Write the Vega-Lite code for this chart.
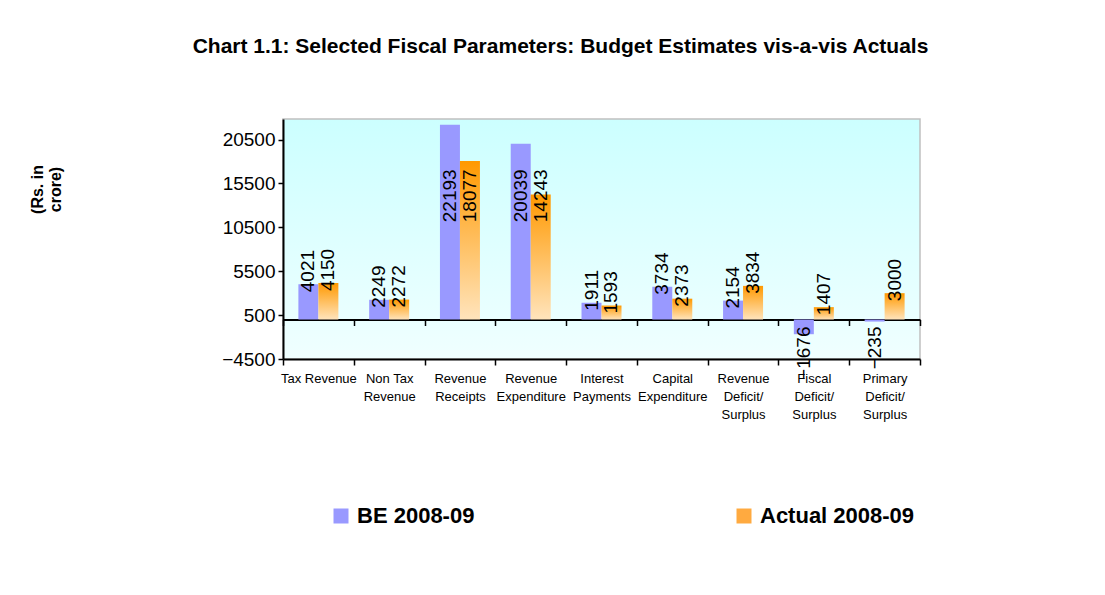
{
  "$schema": "https://vega.github.io/schema/vega-lite/v6.json",
  "width": 637,
  "height": 240,
  "autosize": {"type": "none"},
  "padding": {"left": 283, "top": 119, "right": 185, "bottom": 236},
  "background": "white",
  "title": {
    "text": "Chart 1.1: Selected Fiscal Parameters: Budget Estimates vis-a-vis Actuals",
    "font": "Liberation Sans",
    "fontSize": 21,
    "fontWeight": "bold",
    "color": "black",
    "anchor": "middle",
    "dx": -41,
    "offset": 62
  },
  "config": {
    "view": {
      "fill": {
        "gradient": "linear",
        "x1": 0, "y1": 0, "x2": 0, "y2": 1,
        "stops": [
          {"offset": 0, "color": "#CCFFFF"},
          {"offset": 1, "color": "#F0FFFF"}
        ]
      },
      "stroke": "#C0C0C0",
      "strokeWidth": 1.5
    },
    "font": "Liberation Sans",
    "axis": {"grid": false, "labelColor": "black", "tickColor": "black", "domainColor": "black", "titleColor": "black"}
  },
  "data": {
    "values": [
      {"category": "Tax Revenue", "series": "BE 2008-09", "value": 4021},
      {"category": "Tax Revenue", "series": "Actual 2008-09", "value": 4150},
      {"category": "Non Tax\nRevenue", "series": "BE 2008-09", "value": 2249},
      {"category": "Non Tax\nRevenue", "series": "Actual 2008-09", "value": 2272},
      {"category": "Revenue\nReceipts", "series": "BE 2008-09", "value": 22193},
      {"category": "Revenue\nReceipts", "series": "Actual 2008-09", "value": 18077},
      {"category": "Revenue\nExpenditure", "series": "BE 2008-09", "value": 20039},
      {"category": "Revenue\nExpenditure", "series": "Actual 2008-09", "value": 14243},
      {"category": "Interest\nPayments", "series": "BE 2008-09", "value": 1911},
      {"category": "Interest\nPayments", "series": "Actual 2008-09", "value": 1593},
      {"category": "Capital\nExpenditure", "series": "BE 2008-09", "value": 3734},
      {"category": "Capital\nExpenditure", "series": "Actual 2008-09", "value": 2373},
      {"category": "Revenue\nDeficit/\nSurplus", "series": "BE 2008-09", "value": 2154},
      {"category": "Revenue\nDeficit/\nSurplus", "series": "Actual 2008-09", "value": 3834},
      {"category": "Fiscal\nDeficit/\nSurplus", "series": "BE 2008-09", "value": -1676},
      {"category": "Fiscal\nDeficit/\nSurplus", "series": "Actual 2008-09", "value": 1407},
      {"category": "Primary\nDeficit/\nSurplus", "series": "BE 2008-09", "value": -235},
      {"category": "Primary\nDeficit/\nSurplus", "series": "Actual 2008-09", "value": 3000}
    ]
  },
  "resolve": {"axis": {"x": "independent"}},
  "layer": [
    {
      "mark": {"type": "bar"},
      "encoding": {
        "x": {
          "field": "category", "type": "nominal", "sort": null,
          "scale": {"paddingInner": 0, "paddingOuter": 0},
          "axis": {
            "title": null,
            "orient": "bottom",
            "labelAngle": 0,
            "labelExpr": "isString(datum.value) ? split(datum.value, '\\n') : ''",
            "labelFontSize": 13,
            "labelLineHeight": 18,
            "labelBaseline": "top",
            "labelPadding": 7,
            "labelLimit": 200,
            "labelOverlap": false,
            "tickBand": "extent",
            "tickSize": 6,
            "tickWidth": 1.5,
            "domainWidth": 2
          }
        },
        "xOffset": {
          "field": "series", "type": "nominal", "sort": ["BE 2008-09", "Actual 2008-09"],
          "scale": {"paddingInner": 0, "paddingOuter": 0.77}
        },
        "y": {
          "field": "value", "type": "quantitative",
          "scale": {"domain": [-4500, 22850], "nice": false, "zero": false},
          "axis": {
            "values": [-4500, 500, 5500, 10500, 15500, 20500],
            "format": "d",
            "labelFontSize": 19,
            "tickSize": 5,
            "tickWidth": 1.5,
            "labelPadding": 3,
            "domainWidth": 2,
            "title": ["(Rs. in", "crore)"],
            "titleFontSize": 16,
            "titleFontWeight": "bold",
            "titleLineHeight": 18,
            "titleAngle": 270,
            "titleAlign": "center",
            "titleBaseline": "top",
            "titleX": -254,
            "titleY": 70
          }
        },
        "y2": {"datum": 0},
        "color": {
          "condition": {
            "test": "datum.series === 'Actual 2008-09'",
            "value": {
              "gradient": "linear",
              "x1": 0, "y1": 0, "x2": 0, "y2": 1,
              "stops": [
                {"offset": 0, "color": "#FF9900"},
                {"offset": 1, "color": "#FFE4BC"}
              ]
            }
          },
          "value": "#9999FF"
        }
      }
    },
    {
      "mark": {"type": "square", "opacity": 0},
      "encoding": {
        "x": {"field": "category", "type": "nominal", "sort": null, "axis": null},
        "y": {"field": "value", "type": "quantitative"},
        "color": {
          "field": "series", "type": "nominal",
          "scale": {"domain": ["BE 2008-09", "Actual 2008-09"], "range": ["#9999FF", "#FFAA40"]},
          "legend": {
            "title": null,
            "orient": "none",
            "legendX": 47,
            "legendY": 386,
            "direction": "horizontal",
            "symbolType": "square",
            "symbolSize": 225,
            "symbolOpacity": 1,
            "symbolStrokeWidth": 0,
            "labelFontSize": 22,
            "labelFontWeight": "bold",
            "labelColor": "black",
            "labelOffset": 5,
            "columnPadding": 258
          }
        }
      }
    },
    {
      "transform": [
        {"filter": "datum.value >= 0"},
        {"calculate": "min(datum.value, 12000)", "as": "label_y"}
      ],
      "mark": {"type": "text", "angle": 270, "align": "left", "baseline": "middle", "dx": -8, "fontSize": 19, "color": "black"},
      "encoding": {
        "x": {"field": "category", "type": "nominal", "sort": null,
          "axis": {"title": null, "orient": "bottom", "offset": -39.5, "labels": false, "tickBand": "extent", "tickSize": 6, "tickWidth": 1.5, "domainWidth": 2}},
        "xOffset": {"field": "series", "type": "nominal", "sort": ["BE 2008-09", "Actual 2008-09"]},
        "y": {"field": "label_y", "type": "quantitative"},
        "text": {"field": "value", "type": "quantitative", "format": "d"}
      }
    },
    {
      "transform": [{"filter": "datum.value < 0"}],
      "mark": {"type": "text", "angle": 270, "align": "right", "baseline": "middle", "dx": -7, "fontSize": 19, "color": "black"},
      "encoding": {
        "x": {"field": "category", "type": "nominal", "sort": null, "axis": null},
        "xOffset": {"field": "series", "type": "nominal", "sort": ["BE 2008-09", "Actual 2008-09"]},
        "y": {"datum": 0, "type": "quantitative"},
        "text": {"field": "value", "type": "quantitative", "format": "d"}
      }
    }
  ]
}
